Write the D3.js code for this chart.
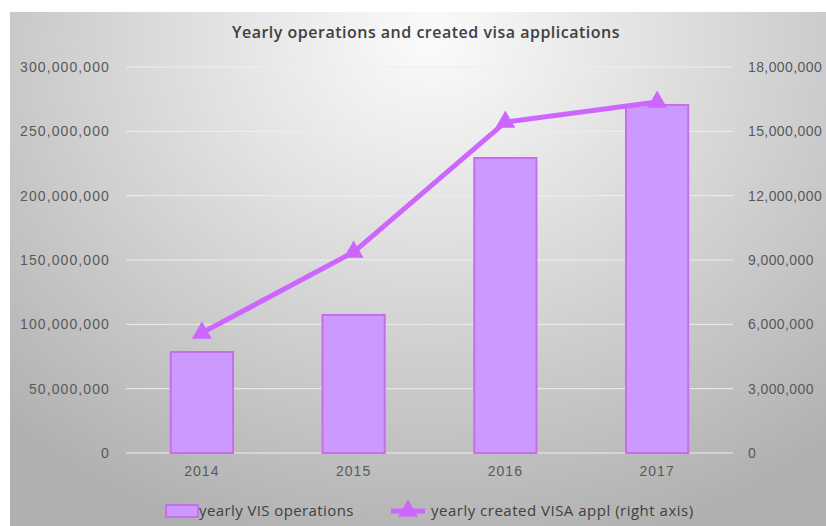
<!DOCTYPE html>
<html><head><meta charset="utf-8">
<script src="https://cdn.jsdelivr.net/npm/d3@7/dist/d3.min.js"></script>
<style>
html,body{margin:0;padding:0;background:#fff;}
svg{display:block;font-family:"Open Sans","DejaVu Sans",sans-serif;}
</style></head>
<body>
<svg id="c" width="826" height="526"></svg>
<script>
const years = ["2014","2015","2016","2017"];
const visOperations = [78500000, 107300000, 229300000, 270500000];
const visaAppl = [5600000, 9370000, 15430000, 16370000];
const leftTicks = [0,50000000,100000000,150000000,200000000,250000000,300000000];
const rightTicks = [0,3000000,6000000,9000000,12000000,15000000,18000000];
const title = "Yearly operations and created visa applications";
const legendLabels = ["yearly VIS operations","yearly created VISA appl (right axis)"];

const svg = d3.select("#c");
const defs = svg.append("defs");
const g = defs.append("radialGradient").attr("id","bg")
  .attr("gradientUnits","userSpaceOnUse").attr("cx",430).attr("cy",40).attr("r",620)
  .attr("gradientTransform","translate(430,40) scale(1,0.85) translate(-430,-40)");
g.append("stop").attr("offset","0").attr("stop-color","#fbfbfb");
g.append("stop").attr("offset","0.35").attr("stop-color","#e2e2e2");
g.append("stop").attr("offset","1").attr("stop-color","#b0b0b0");
svg.append("rect").attr("x",10).attr("y",12).attr("width",816).attr("height",514).attr("fill","url(#bg)");

const x0 = 126, x1 = 733, yTop = 67, yBot = 453;
const x = d3.scaleBand().domain(years).range([x0,x1]).paddingInner(0.59).paddingOuter(0.295);
const yL = d3.scaleLinear().domain([0,300000000]).range([yBot,yTop]);
const yR = d3.scaleLinear().domain([0,18000000]).range([yBot,yTop]);
const fmt = d3.format(",");

// gridlines
svg.append("g").selectAll("line").data(leftTicks).join("line")
  .attr("x1",x0).attr("x2",x1).attr("y1",d=>yL(d)).attr("y2",d=>yL(d))
  .attr("stroke","#eeeeee").attr("stroke-width",1);

// left axis
const la = svg.append("g").attr("transform",`translate(${x0-16},0)`)
  .call(d3.axisLeft(yL).tickValues(leftTicks).tickFormat(fmt).tickSize(0).tickPadding(0));
la.select(".domain").remove();
la.selectAll("text").attr("fill","#595959").style("font-size","14px").style("letter-spacing","1.1px");

// right axis
const ra = svg.append("g").attr("transform",`translate(${x1+15},0)`)
  .call(d3.axisRight(yR).tickValues(rightTicks).tickFormat(fmt).tickSize(0).tickPadding(0));
ra.select(".domain").remove();
ra.selectAll("text").attr("fill","#595959").style("font-size","14px").style("letter-spacing","0.4px");

// x axis
const xa = svg.append("g").attr("transform",`translate(0,${yBot+12})`)
  .call(d3.axisBottom(x).tickSize(0).tickPadding(0));
xa.select(".domain").remove();
xa.selectAll("text").attr("fill","#595959").style("font-size","14px").style("letter-spacing","1px").attr("dy","0.8em");

// bars
svg.append("g").selectAll("rect").data(years).join("rect")
  .attr("x",d=>x(d)).attr("width",x.bandwidth())
  .attr("y",(d,i)=>yL(visOperations[i])).attr("height",(d,i)=>yBot-yL(visOperations[i]))
  .attr("fill","#cc99ff").attr("stroke","#c46ef0").attr("stroke-width",2);

// line
const line = d3.line().x((d,i)=>x(years[i])+x.bandwidth()/2).y(d=>yR(d));
svg.append("path").datum(visaAppl).attr("d",line).attr("fill","none")
  .attr("stroke","#cc66ff").attr("stroke-width",5).attr("stroke-linejoin","round");
const tri = d3.symbol().type(d3.symbolTriangle).size(130);
svg.append("g").selectAll("path").data(visaAppl).join("path")
  .attr("transform",(d,i)=>`translate(${x(years[i])+x.bandwidth()/2},${yR(d)})`)
  .attr("d",tri).attr("fill","#cc66ff").attr("stroke","#cc66ff").attr("stroke-width",1.5);

// title
svg.append("text").attr("x",426).attr("y",38).attr("text-anchor","middle")
  .attr("fill","#404040").style("font-size","16px").style("font-weight","600")
  .style("letter-spacing","0.5px").text(title);

// legend
const ly = 511;
svg.append("rect").attr("x",166).attr("y",ly-6).attr("width",32).attr("height",12)
  .attr("fill","#cc99ff").attr("stroke","#c46ef0").attr("stroke-width",2);
svg.append("text").attr("x",199).attr("y",ly).attr("dy","0.35em").attr("fill","#404040")
  .style("font-size","15px").style("letter-spacing","0.4px").text(legendLabels[0]);
svg.append("line").attr("x1",391).attr("x2",425).attr("y1",ly).attr("y2",ly)
  .attr("stroke","#cc66ff").attr("stroke-width",5);
svg.append("path").attr("transform",`translate(408,${ly})`).attr("d",tri)
  .attr("fill","#cc66ff").attr("stroke","#cc66ff").attr("stroke-width",1.5);
svg.append("text").attr("x",431).attr("y",ly).attr("dy","0.35em").attr("fill","#404040")
  .style("font-size","15px").style("letter-spacing","0.5px").text(legendLabels[1]);
</script>
</body></html>
